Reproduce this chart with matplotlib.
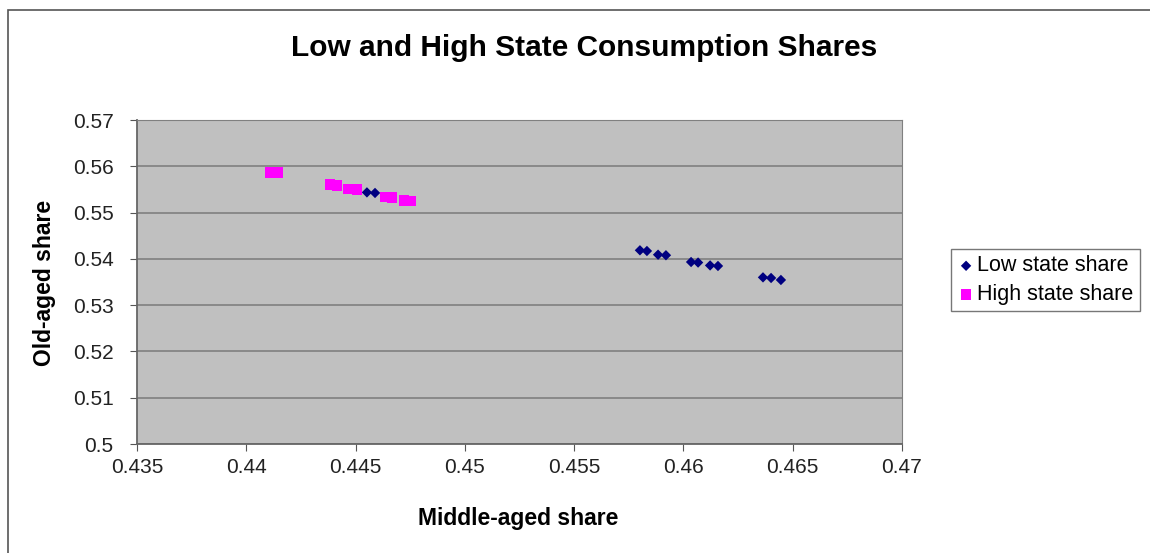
import matplotlib
matplotlib.use("Agg")
import matplotlib.pyplot as plt
from matplotlib.patches import Rectangle

plt.rcParams['font.family'] = ['Liberation Sans', 'DejaVu Sans']

low_x = [0.45801, 0.45833, 0.45884, 0.45920, 0.46035, 0.46067, 0.46122, 0.46158,
         0.46364, 0.46401, 0.46446, 0.44552, 0.44589]
low_y = [0.54185, 0.54170, 0.54090, 0.54078, 0.53932, 0.53920, 0.53858, 0.53846,
         0.53600, 0.53587, 0.53544, 0.55436, 0.55424]
high_x = [0.44108, 0.44145, 0.44383, 0.44415, 0.44465, 0.44507, 0.44635, 0.44667,
          0.44722, 0.44754]
high_y = [0.55862, 0.55862, 0.55600, 0.55592, 0.55510, 0.55496, 0.55334, 0.55326,
          0.55262, 0.55252]

xticks = [0.435, 0.44, 0.445, 0.45, 0.455, 0.46, 0.465, 0.47]
xticklabels = ["0.435", "0.44", "0.445", "0.45", "0.455", "0.46", "0.465", "0.47"]
yticks = [0.5, 0.51, 0.52, 0.53, 0.54, 0.55, 0.56, 0.57]
yticklabels = ["0.5", "0.51", "0.52", "0.53", "0.54", "0.55", "0.56", "0.57"]

W, H = 1150, 553
fig = plt.figure(figsize=(W / 100, H / 100), dpi=100)
fig.patch.set_facecolor('white')

# outer chart border
fig.patches.append(Rectangle((8 / W, -0.05), 1.2, 1 - 10 / H + 0.05, transform=fig.transFigure,
                             fill=False, edgecolor='#555555', linewidth=1.2))

ax = fig.add_axes([137 / W, 1 - 444 / H, (902 - 137) / W, (444 - 120) / H])
ax.set_facecolor('#C0C0C0')
ax.set_xlim(0.435, 0.47)
ax.set_ylim(0.5, 0.57)
ax.set_xticks(xticks)
ax.set_xticklabels(xticklabels)
ax.set_yticks(yticks)
ax.set_yticklabels(yticklabels)
ax.yaxis.grid(True, color='#808080', linewidth=1.2)
ax.set_axisbelow(True)
for s in ['top', 'right']:
    ax.spines[s].set_color('#808080')
for s in ['left', 'bottom']:
    ax.spines[s].set_color('#666666')
    ax.spines[s].set_linewidth(1.3)
ax.tick_params(direction='out', length=5, color='#555555', labelsize=15,
               labelcolor='#222222')
ax.tick_params(axis='y', pad=12)
ax.tick_params(axis='x', pad=5)

ax.scatter(low_x, low_y, marker='D', s=28, color='#000080', zorder=3, label='Low state share',
           edgecolors='none')
ax.scatter(high_x, high_y, marker='s', s=60, color='#FF00FF', zorder=3, label='High state share',
           edgecolors='none')

fig.text(584 / W, 1 - 48 / H, 'Low and High State Consumption Shares', ha='center', va='center',
         fontsize=21.5, fontweight='bold')
fig.text(518 / W, 1 - 519 / H, 'Middle-aged share', ha='center', va='center',
         fontsize=16.5, fontweight='bold')
fig.text(45 / W, 1 - 283 / H, 'Old-aged share', ha='center', va='center', rotation=90,
         fontsize=16.5, fontweight='bold')

leg = fig.legend(loc='upper left', bbox_to_anchor=(951 / W, 1 - 249 / H), frameon=True,
                 fontsize=15.5, handletextpad=0.1, handlelength=0.8, borderpad=0.3,
                 labelspacing=0.35, fancybox=False, borderaxespad=0)
leg.get_frame().set_edgecolor('#555555')
leg.get_frame().set_linewidth(1.0)

fig.savefig('out.png', dpi=100)
